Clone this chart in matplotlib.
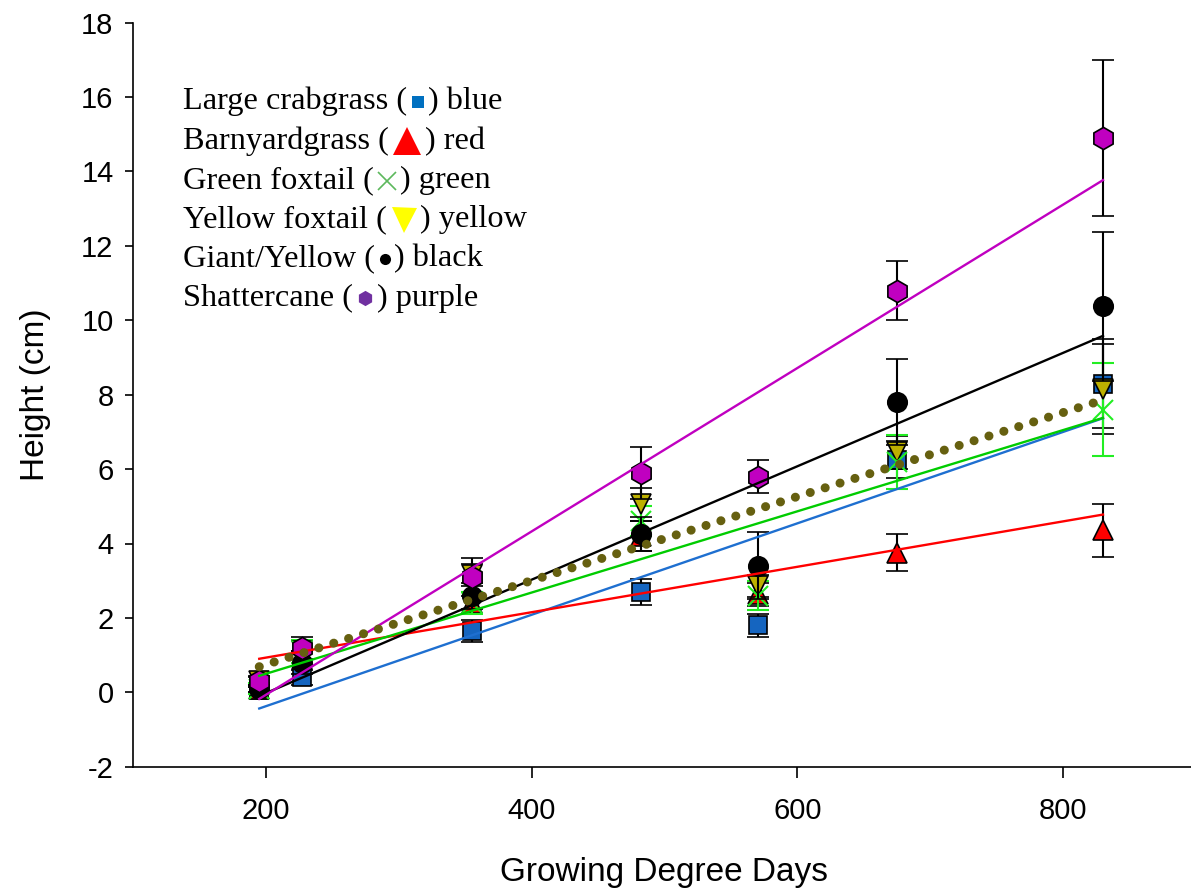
import numpy as np
import matplotlib
matplotlib.use("Agg")
import matplotlib.pyplot as plt
from matplotlib.lines import Line2D
from matplotlib.offsetbox import TextArea, DrawingArea, HPacker, VPacker, AnchoredOffsetbox

plt.rcParams["axes.unicode_minus"] = False

# growing degree days at each sampling date
gdd = [195, 227, 355, 482, 570, 675, 830]

# mean height (cm) and standard error per species
crabgrass = [0.05, 0.4, 1.65, 2.7, 1.8, 6.25, 8.3]
crabgrass_se = [0.1, 0.2, 0.3, 0.35, 0.3, 0.5, 1.2]
barnyard = [0.1, 0.9, 2.4, 4.2, 2.63, 3.75, 4.35]
barnyard_se = [0.1, 0.2, 0.3, 0.4, 0.3, 0.5, 0.7]
green_fox = [0.1, 1.1, 2.4, 4.6, 2.6, 6.2, 7.6]
green_fox_se = [0.15, 0.3, 0.3, 0.4, 0.4, 0.73, 1.24]
yellow_fox = [0.3, 1.1, 3.15, 5.05, 2.85, 6.45, 8.15]
yellow_fox_se = [0.1, 0.3, 0.3, 0.45, 0.3, 0.45, 1.2]
giant_yellow = [0.1, 0.8, 2.6, 4.25, 3.4, 7.8, 10.38]
giant_yellow_se = [0.1, 0.3, 0.35, 0.45, 0.9, 1.15, 2.0]
shattercane = [0.3, 1.2, 3.1, 5.9, 5.8, 10.8, 14.9]
shattercane_se = [0.15, 0.3, 0.5, 0.7, 0.45, 0.8, 2.1]

fig = plt.figure(figsize=(11.91, 8.92), dpi=100)
ax = fig.add_axes([133 / 1191, 125.3 / 892, 1063 / 1191, 744 / 892])

x = np.array(gdd, dtype=float)
xfit = np.array([x.min(), x.max()])

def series(vals, err, marker, face, ms, ecol="black", mew=1.2, z=3):
    ax.errorbar(x, vals, yerr=err, fmt=marker, ms=ms, mfc=face,
                mec="black" if marker != "x" else face, mew=mew,
                ecolor=ecol, elinewidth=1.5, capsize=8, capthick=1.5, zorder=z)

series(crabgrass, crabgrass_se, "s", "#1565c0", 13, z=3)
series(barnyard, barnyard_se, "^", "#ff0000", 14, z=3.1)
series(yellow_fox, yellow_fox_se, "v", "#bdb000", 14, z=3.2)
series(green_fox, green_fox_se, "x", "#22ee22", 14, ecol="#22ee22", mew=1.5, z=3.3)
series(giant_yellow, giant_yellow_se, "o", "black", 14, z=3.4)
series(shattercane, shattercane_se, "h", "#c000c0", 16, z=3.5)

# linear regressions
def fit_line(vals, **kw):
    coef = np.polyfit(x, vals, 1)
    ax.plot(xfit, np.polyval(coef, xfit), zorder=5, **kw)

fit_line(crabgrass, color="#1e6fd0", lw=1.7)
fit_line(barnyard, color="#ff0000", lw=1.7)
fit_line(green_fox, color="#00cc00", lw=1.7)
fit_line(giant_yellow, color="black", lw=1.7)
fit_line(shattercane, color="#c000c0", lw=1.7)
fit_line(yellow_fox, color="#666010", lw=6.5, linestyle=(0, (0.01, 1.72)),
         dash_capstyle="round")

ax.set_xlim(100, 900)
ax.set_ylim(-2, 18)
ax.set_xticks([200, 400, 600, 800])
ax.set_yticks(np.arange(-2, 19, 2))
ax.spines["top"].set_visible(False)
ax.spines["right"].set_visible(False)
for s in ["left", "bottom"]:
    ax.spines[s].set_linewidth(1.2)
ax.tick_params(axis="x", direction="out", length=8, width=1.2, pad=14,
               labelsize=21)
ax.tick_params(axis="y", direction="out", length=6, width=1.2, pad=8,
               labelsize=21)
for lab in ax.get_xticklabels() + ax.get_yticklabels():
    lab.set_family("Liberation Sans")
ax.set_xlabel("Growing Degree Days", fontsize=24, family="Liberation Sans",
              labelpad=23)
ax.set_ylabel("Height (cm)", fontsize=24, family="Liberation Sans",
              labelpad=22)

# text key with inline symbols
key_rows = [
    ("Large crabgrass (", ") blue", "s", "#0070c0", 9),
    ("Barnyardgrass (", ") red", "^", "#ff0000", 20),
    ("Green foxtail (", ") green", "x", "#5cb85c", 13),
    ("Yellow foxtail (", ") yellow", "v", "#ffff00", 18),
    ("Giant/Yellow (", ") black", "o", "black", 8),
    ("Shattercane (", ") purple", "h", "#7030a0", 11),
]
tprops = dict(family="Liberation Serif", size=23.3, color="black")
rows = []
for left, right, mk, col, ms in key_rows:
    da = DrawingArea(ms + 4, 16, 0, 0)
    da.add_artist(Line2D([(ms + 4) / 2], [8], marker=mk, ms=ms, color=col,
                         mfc=col, mec=col, mew=1.2 if mk == "x" else 0,
                         linestyle="none"))
    rows.append(HPacker(children=[TextArea(left, textprops=tprops), da,
                                  TextArea(right, textprops=tprops)],
                        align="center", pad=0, sep=1))
key = VPacker(children=rows, align="left", pad=0, sep=7.2)
anchored = AnchoredOffsetbox(loc="upper left", child=key, frameon=False,
                             bbox_to_anchor=(183, 892 - 87),
                             bbox_transform=None, borderpad=0, pad=0)
ax.add_artist(anchored)

fig.savefig("out.png", dpi=100)
